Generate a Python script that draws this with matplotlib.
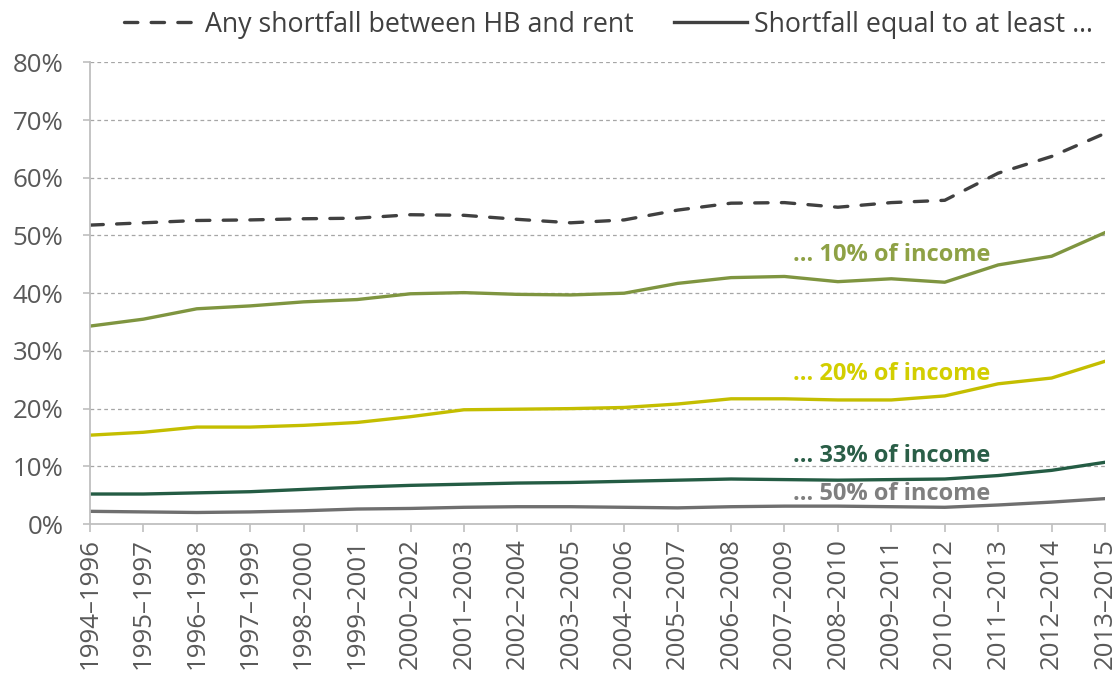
import matplotlib
matplotlib.use("Agg")
import matplotlib.pyplot as plt
from matplotlib.lines import Line2D

plt.rcParams['font.family'] = ['Open Sans', 'DejaVu Sans']

years = ["1994–1996", "1995–1997", "1996–1998", "1997–1999", "1998–2000",
         "1999–2001", "2000–2002", "2001–2003", "2002–2004", "2003–2005",
         "2004–2006", "2005–2007", "2006–2008", "2007–2009", "2008–2010",
         "2009–2011", "2010–2012", "2011–2013", "2012–2014", "2013–2015"]

# shares of HB recipients (%)
any_shortfall = [51.8, 52.2, 52.6, 52.7, 52.9, 53.0, 53.6, 53.5, 52.8, 52.2,
                 52.7, 54.4, 55.6, 55.7, 54.9, 55.7, 56.1, 60.8, 63.7, 67.7]
short_10 = [34.3, 35.5, 37.3, 37.8, 38.5, 38.9, 39.9, 40.1, 39.8, 39.7,
            40.0, 41.7, 42.7, 42.9, 42.0, 42.5, 41.9, 44.9, 46.4, 50.5]
short_20 = [15.4, 15.9, 16.8, 16.8, 17.1, 17.6, 18.6, 19.8, 19.9, 20.0,
            20.2, 20.8, 21.7, 21.7, 21.5, 21.5, 22.2, 24.3, 25.3, 28.2]
short_33 = [5.2, 5.2, 5.4, 5.6, 6.0, 6.4, 6.7, 6.9, 7.1, 7.2,
            7.4, 7.6, 7.8, 7.7, 7.6, 7.7, 7.8, 8.4, 9.3, 10.7]
short_50 = [2.2, 2.1, 2.0, 2.1, 2.3, 2.6, 2.7, 2.9, 3.0, 3.0,
            2.9, 2.8, 3.0, 3.1, 3.1, 3.0, 2.9, 3.3, 3.8, 4.4]

dark = "#404040"
c10, c20, c33, c50 = "#7f9540", "#c4be00", "#245c44", "#6f6f6f"
t10, t20, t33, t50 = "#8ea145", "#d2ce00", "#2a5e47", "#7f7f7f"

fig = plt.figure(figsize=(11.19, 6.78), dpi=100)
ax = fig.add_axes([0.0804, 0.2271, 0.9071, 0.6809])

x = list(range(len(years)))
lw = 2.4
ax.plot(x, any_shortfall, color=dark, lw=lw, dashes=(4, 4), dash_capstyle="round")
ax.plot(x, short_10, color=c10, lw=lw)
ax.plot(x, short_20, color=c20, lw=lw)
ax.plot(x, short_33, color=c33, lw=lw)
ax.plot(x, short_50, color=c50, lw=lw)

afs = 17
ax.text(16.85, 46.6, "… 10% of income", color=t10, fontsize=afs, fontweight="bold", ha="right", va="center")
ax.text(16.85, 26.0, "… 20% of income", color=t20, fontsize=afs, fontweight="bold", ha="right", va="center")
ax.text(16.85, 11.8, "… 33% of income", color=t33, fontsize=afs, fontweight="bold", ha="right", va="center")
ax.text(16.85, 5.2, "… 50% of income", color=t50, fontsize=afs, fontweight="bold", ha="right", va="center")

fs = 18.6
ax.set_xlim(0, len(years) - 1)
ax.set_ylim(0, 80)
ax.set_yticks(range(0, 81, 10))
ax.set_yticklabels([f"{v}%" for v in range(0, 81, 10)])
ax.set_xticks(x)
ax.set_xticklabels(years, rotation=90)
ax.grid(axis="y", color="#a6a6a6", ls=(0, (3, 2.5)), lw=0.9)
ax.set_axisbelow(True)

for s in ["top", "right"]:
    ax.spines[s].set_visible(False)
for s in ["left", "bottom"]:
    ax.spines[s].set_color("#bfbfbf")
    ax.spines[s].set_linewidth(1.3)
ax.spines["bottom"].set_zorder(0)
ax.tick_params(axis="y", length=5, width=1.2, color="#bfbfbf", pad=14, labelsize=fs, labelcolor="#595959")
ax.tick_params(axis="x", length=6, width=1.2, color="#bfbfbf", pad=4, labelsize=fs, labelcolor="#595959")
ax.yaxis.get_gridlines()[0].set_visible(False)

handles = [Line2D([], [], color=dark, lw=lw, dashes=(4, 4), dash_capstyle="round"),
           Line2D([], [], color=dark, lw=lw)]
fig.legend(handles, ["Any shortfall between HB and rent", "Shortfall equal to at least …"],
           loc="upper center", bbox_to_anchor=(0.544, 1.02), ncol=2, frameon=False,
           fontsize=19.3, handlelength=2.75, handletextpad=0.25, columnspacing=1.5,
           labelcolor="#404040")

fig.savefig("out.png", dpi=100)
